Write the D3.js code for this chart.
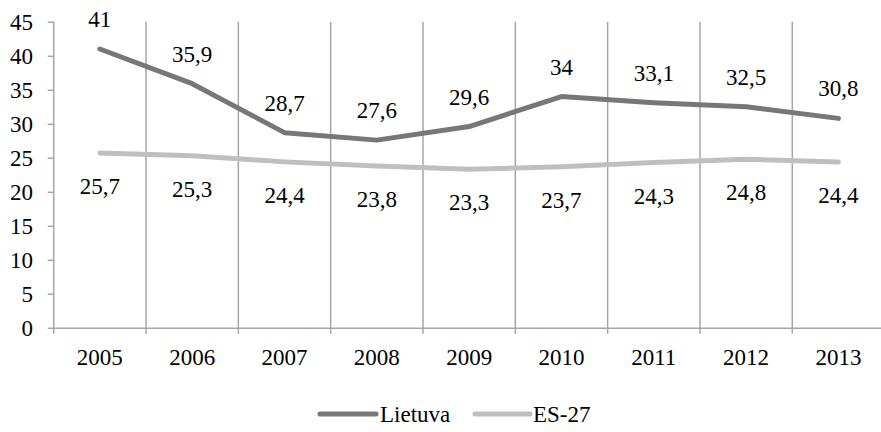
<!DOCTYPE html>
<html><head><meta charset="utf-8">
<script src="https://cdn.jsdelivr.net/npm/d3@7"></script>
<style>
html,body{margin:0;padding:0;background:#fff;}
svg{display:block;}
svg text{font-family:"Liberation Serif","Times New Roman",Times,serif !important;fill:#000;}
</style></head>
<body><svg id="c" width="881" height="432" font-family="Liberation Serif"></svg>
<script>
const years = ["2005","2006","2007","2008","2009","2010","2011","2012","2013"];
const lietuva = [41, 35.9, 28.7, 27.6, 29.6, 34, 33.1, 32.5, 30.8];
const es27 = [25.7, 25.3, 24.4, 23.8, 23.3, 23.7, 24.3, 24.8, 24.4];
const yTicks = [0,5,10,15,20,25,30,35,40,45];
const seriesNames = ["Lietuva","ES-27"];

const svg = d3.select("#c");
const gridColor = "#a6a6a6";
const serif = '"Liberation Serif", "Times New Roman", serif';
const fs = 23;
const fmt = v => String(v).replace(".", ",");

const x = d3.scaleBand().domain(years).range([53.7, 884.6]).padding(0);
const y = d3.scaleLinear().domain([0,45]).range([327.8, 21.8]);
const cx = d => x(d) + x.bandwidth()/2;

// vertical gridlines at band boundaries
const bounds = years.slice(1).map(d => x(d));
svg.append("g").selectAll("line").data(bounds).join("line")
  .attr("x1", d=>d).attr("x2", d=>d)
  .attr("y1", y(45)).attr("y2", y(0)+6)
  .attr("stroke", gridColor).attr("stroke-width", 1.5);

// y axis
const yAxis = svg.append("g").attr("transform", `translate(${x.range()[0]},0)`)
  .call(d3.axisLeft(y).tickValues(yTicks).tickSize(6).tickSizeOuter(0).tickPadding(14.7).tickFormat(d=>d));
yAxis.attr("font-family", serif);
yAxis.select(".domain").attr("stroke", gridColor).attr("stroke-width", 1.5)
  .attr("d", `M0,${y(45)}V${y(0)+6}`);
yAxis.selectAll(".tick line").attr("stroke", gridColor).attr("stroke-width", 1.5);
yAxis.selectAll(".tick text").attr("font-size", fs).style("font-family", serif).attr("fill","#000");

// x axis
const xAxis = svg.append("g").attr("transform", `translate(0,${y(0)})`)
  .call(d3.axisBottom(x).tickSize(0).tickSizeOuter(0).tickPadding(0));
xAxis.attr("font-family", serif);
xAxis.select(".domain").attr("stroke", gridColor).attr("stroke-width", 1.5);
xAxis.selectAll(".tick text").attr("font-size", fs).style("font-family", serif)
  .attr("fill","#000").attr("dy", null).attr("y", 37);

// lines
const line = d3.line().x((d,i)=>cx(years[i])).y(d=>y(d));
const colors = ["#777777", "#bfbfbf"];
const data = [lietuva, es27];
[1,0].forEach(k => {
  svg.append("path").datum(data[k]).attr("d", line)
    .attr("fill","none").attr("stroke", colors[k]).attr("stroke-width", 5)
    .attr("stroke-linecap","round").attr("stroke-linejoin","round");
});

// labels
svg.append("g").selectAll("text").data(lietuva).join("text")
  .attr("x", (d,i)=>cx(years[i])).attr("y", d=>y(d)-22)
  .attr("text-anchor","middle").attr("font-size",fs).style("font-family", serif).text(fmt);
svg.append("g").selectAll("text").data(es27).join("text")
  .attr("x", (d,i)=>cx(years[i])).attr("y", d=>y(d)+41)
  .attr("text-anchor","middle").attr("font-size",fs).style("font-family", serif).text(fmt);

// legend
const leg = svg.append("g");
const legItems = [{x1:320, x2:376, tx:380},{x1:475, x2:530, tx:533}];
seriesNames.forEach((n,k) => {
  const it = legItems[k];
  leg.append("line").attr("x1", it.x1).attr("x2", it.x2).attr("y1", 414).attr("y2", 414)
    .attr("stroke", colors[k]).attr("stroke-width", 5).attr("stroke-linecap","round");
  leg.append("text").attr("x", it.tx).attr("y", 422).attr("font-size", fs).style("font-family", serif).text(n);
});
</script></body></html>
